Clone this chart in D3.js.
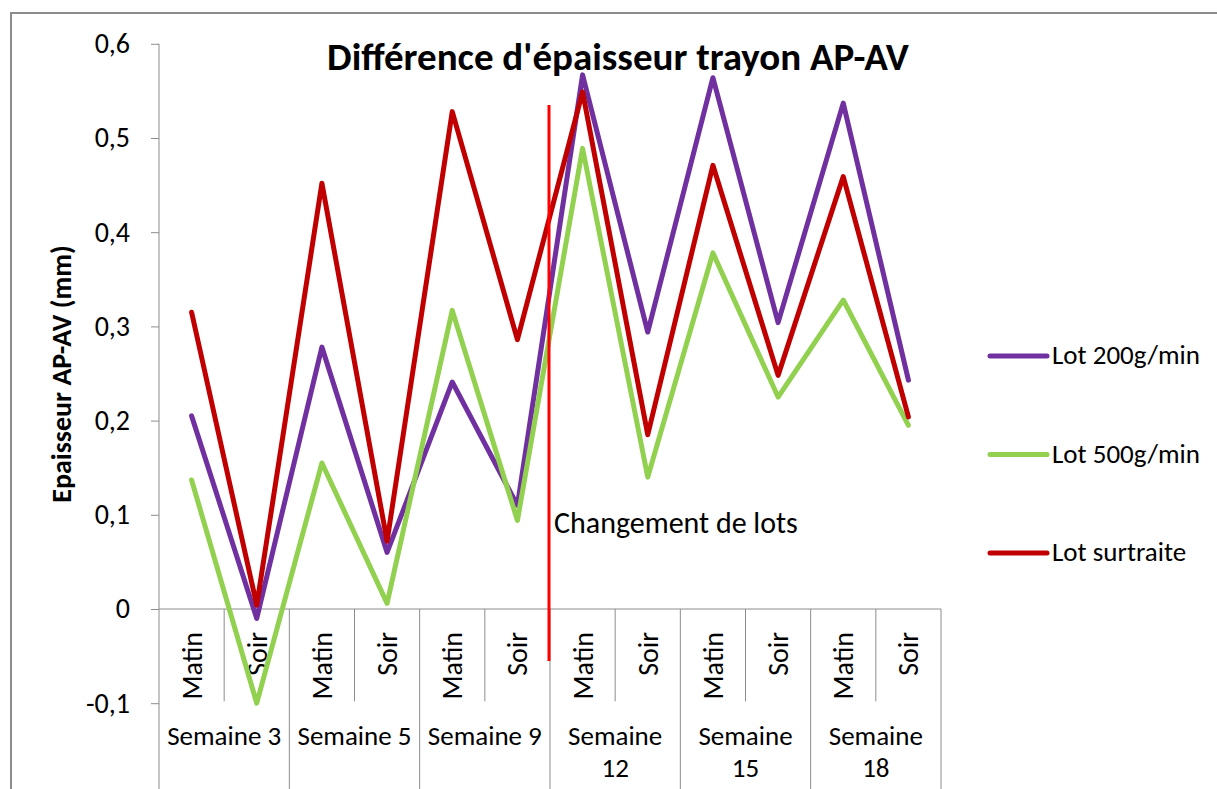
<!DOCTYPE html>
<html lang="fr">
<meta charset="utf-8">
<head>
    <title>Différence d'épaisseur trayon AP-AV</title>
    <script src="https://cdn.jsdelivr.net/npm/d3@7"></script>
    <style>
        body { margin: 0; background: #fff; }
        svg text { font-family: Carlito, Lato, "Open Sans", sans-serif; fill: #000; }
        .tick line { stroke: #8c8c8c; }
    </style>
</head>
<body>
<script>
    // categories: two milkings per week
    const weeks = ["Semaine 3", "Semaine 5", "Semaine 9", "Semaine 12", "Semaine 15", "Semaine 18"];
    const milkings = ["Matin", "Soir"];
    const yTicks = [-0.1, 0, 0.1, 0.2, 0.3, 0.4, 0.5, 0.6];

    // series values (mm), one per category: Matin, Soir for each week
    const lot200 = [0.205, -0.010, 0.278, 0.060, 0.241, 0.110, 0.567, 0.294, 0.564, 0.304, 0.537, 0.243];
    const lot500 = [0.137, -0.100, 0.155, 0.006, 0.317, 0.094, 0.489, 0.140, 0.378, 0.225, 0.328, 0.195];
    const surtraite = [0.315, 0.004, 0.452, 0.072, 0.528, 0.286, 0.549, 0.185, 0.471, 0.248, 0.459, 0.204];

    const seriesNames = ["Lot 200g/min", "Lot 500g/min", "Lot surtraite"];
    const seriesColors = ["#7030a0", "#92d050", "#c00000"];

    const W = 1217, H = 789;
    const plot = { left: 159, right: 941, top: 43.8, zeroY: 609 };

    const cats = weeks.flatMap(w => milkings.map(m => w + "|" + m));
    const series = [lot200, lot500, surtraite].map((v, i) => ({ name: seriesNames[i], color: seriesColors[i], values: v }));

    const svg = d3.select("body").append("svg")
        .attr("width", W).attr("height", H);

    // chart border
    svg.append("rect")
        .attr("x", 11).attr("y", 13)
        .attr("width", W + 20).attr("height", H + 20)
        .attr("fill", "none").attr("stroke", "#8c8c8c").attr("stroke-width", 2);

    const x = d3.scaleBand().domain(cats).range([plot.left, plot.right]);
    const y = d3.scaleLinear().domain([0, 0.6]).range([plot.zeroY, plot.top]);

    const loc = d3.formatLocale({ decimal: ",", thousands: " ", grouping: [3], currency: ["", "€"], minus: "-" });
    const fmt = v => v === 0 ? "0" : loc.format(".1f")(v);

    // y axis
    const yAxis = svg.append("g")
        .attr("transform", `translate(${plot.left},0)`)
        .call(d3.axisLeft(y).tickValues(yTicks).tickFormat(fmt).tickSize(8).tickPadding(21));
    yAxis.select(".domain").remove();
    yAxis.selectAll(".tick text").style("font-size", "28px").attr("fill", "#000");
    yAxis.append("line")
        .attr("x1", 0).attr("x2", 0)
        .attr("y1", y(0.6)).attr("y2", H)
        .attr("stroke", "#8c8c8c");

    // category axis at zero
    svg.append("line")
        .attr("x1", plot.left).attr("x2", plot.right)
        .attr("y1", y(0)).attr("y2", y(0))
        .attr("stroke", "#8c8c8c");

    cats.forEach((c, i) => {
        const xr = x(c) + x.bandwidth();
        const weekEnd = i % 2 === 1;
        svg.append("line")
            .attr("x1", xr).attr("x2", xr)
            .attr("y1", y(0)).attr("y2", weekEnd ? H : y(-0.098))
            .attr("stroke", "#8c8c8c");
        const cx = x(c) + x.bandwidth() / 2;
        svg.append("text")
            .attr("transform", `translate(${cx + 10},${y(0) + 23}) rotate(-90)`)
            .attr("text-anchor", "end")
            .style("font-size", "28px")
            .text(c.split("|")[1]);
    });

    weeks.forEach((w, i) => {
        const cx = x(cats[i * 2]) + x.bandwidth();
        const parts = w.length > 9 ? ["Semaine", w.split(" ")[1]] : [w];
        parts.forEach((p, j) => {
            svg.append("text")
                .attr("x", cx).attr("y", 745 + j * 32)
                .attr("text-anchor", "middle")
                .style("font-size", "27px")
                .text(p);
        });
    });

    // lines
    const line = d3.line()
        .x((d, i) => x(cats[i]) + x.bandwidth() / 2)
        .y(d => y(d));

    svg.selectAll(".series")
        .data(series)
        .join("path")
        .attr("class", "series")
        .attr("d", d => line(d.values))
        .attr("fill", "none")
        .attr("stroke", d => d.color)
        .attr("stroke-width", 5)
        .attr("stroke-linejoin", "round")
        .attr("stroke-linecap", "round");

    // lot change marker
    const changeX = x(cats[6]) - 1;
    svg.append("line")
        .attr("x1", changeX).attr("x2", changeX)
        .attr("y1", 105).attr("y2", 661)
        .attr("stroke", "#ff0000").attr("stroke-width", 3);
    svg.append("text")
        .attr("x", changeX + 5).attr("y", 533)
        .style("font-size", "30px")
        .text("Changement de lots");

    // title
    svg.append("text")
        .attr("x", 618).attr("y", 70)
        .attr("text-anchor", "middle")
        .style("font-size", "39px").style("font-weight", "bold")
        .text("Différence d'épaisseur trayon AP-AV");

    // y title
    svg.append("text")
        .attr("transform", "translate(71,374) rotate(-90)")
        .attr("text-anchor", "middle")
        .style("font-size", "28px").style("font-weight", "bold")
        .text("Epaisseur AP-AV (mm)");

    // legend
    const legend = svg.selectAll(".legend")
        .data(series)
        .join("g")
        .attr("class", "legend")
        .attr("transform", (d, i) => `translate(990,${356 + i * 98.5})`);
    legend.append("line")
        .attr("x1", 0).attr("x2", 57)
        .attr("stroke", d => d.color)
        .attr("stroke-width", 5).attr("stroke-linecap", "round");
    legend.append("text")
        .attr("x", 62).attr("y", 8)
        .style("font-size", "27px")
        .text(d => d.name);
</script>
</body>
</html>
